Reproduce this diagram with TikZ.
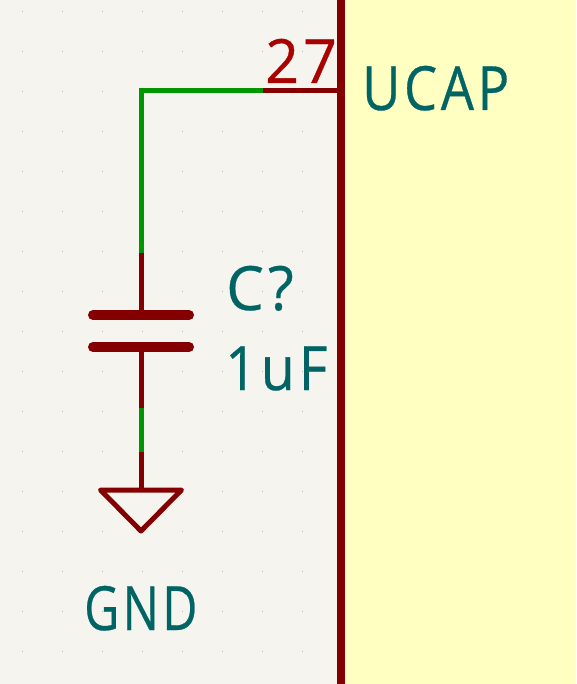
\documentclass[tikz,border=0pt]{standalone}
\usepackage{graphicx}
\usepackage{fontspec}
\newfontfamily\schfont[LetterSpace=7,FakeBold=0.5]{Open Sans}
\definecolor{sheetbg}{HTML}{F5F4EF}
\definecolor{bodyfill}{HTML}{FFFFC2}
\definecolor{symred}{HTML}{840000}
\definecolor{numred}{HTML}{A90000}
\definecolor{wiregreen}{HTML}{009600}
\definecolor{labelteal}{HTML}{006464}
\definecolor{griddot}{HTML}{B4B4B0}
\tikzset{
	wire/.style={draw=wiregreen,line width=5pt},
	pinline/.style={draw=symred,line width=5pt},
	plate/.style={draw=symred,line width=10pt,line cap=round},
	label/.style={text=labelteal,inner sep=0pt,anchor=base west,font=\schfont\fontsize{61}{61}\selectfont},
	pinnum/.style={label,text=numred}
}
\begin{document}
\begin{tikzpicture}[x=1pt,y=-1pt]
	\useasboundingbox (0,0) rectangle (576,684);
	\fill[sheetbg] (0,0) rectangle (576,684);
	\foreach \x in {21,61,...,301}
		\foreach \y in {11,51,...,651}
			\fill[griddot] (\x+0.6,\y-0.1) rectangle ++(1.3,1.3);
	\fill[bodyfill] (341,0) rectangle (576,684);

	\coordinate (padtop) at (341,91);
	\coordinate (pinend) at (263,91);
	\coordinate (corner) at (141,91);
	\coordinate (captop) at (141,253);
	\coordinate (plateA) at (141,315);
	\coordinate (plateB) at (141,347);
	\coordinate (capbot) at (141,408);
	\coordinate (gndtop) at (141,452);
	\coordinate (gndbar) at (141,490);
	\coordinate (gndtip) at (141,531);

	\draw[pinline] (padtop) -- (pinend);
	\draw[pinline] (captop) -- (plateA);
	\draw[pinline] (plateB) -- (capbot);
	\draw[pinline] (gndtop) -- (gndbar);
	\draw[wire] (pinend) -- (corner) -- (captop);
	\draw[wire] (capbot) -- (gndtop);

	\draw[plate] (93,315) -- (189,315);
	\draw[plate] (93,347) -- (189,347);
	\draw[pinline,line join=round,line cap=round] (100.5,490) -- (181.5,490) -- (gndtip) -- cycle;

	\draw[symred,line width=8pt] (341,0) -- (341,684);

	\node[pinnum] (pinno) at (265,83) {\scalebox{.97}[1]{27}};
	\node[label] (pinname) at (362,110) {\scalebox{.86}[1]{UCAP}};
	\node[label] (capref) at (226,310) {\scalebox{.98}[1]{C?}};
	\node[label] (capval) at (225,390) {\scalebox{.91}[1]{1uF}};
	\node[label] (gndname) at (84,630) {\scalebox{.79}[1]{GND}};
\end{tikzpicture}
\end{document}
